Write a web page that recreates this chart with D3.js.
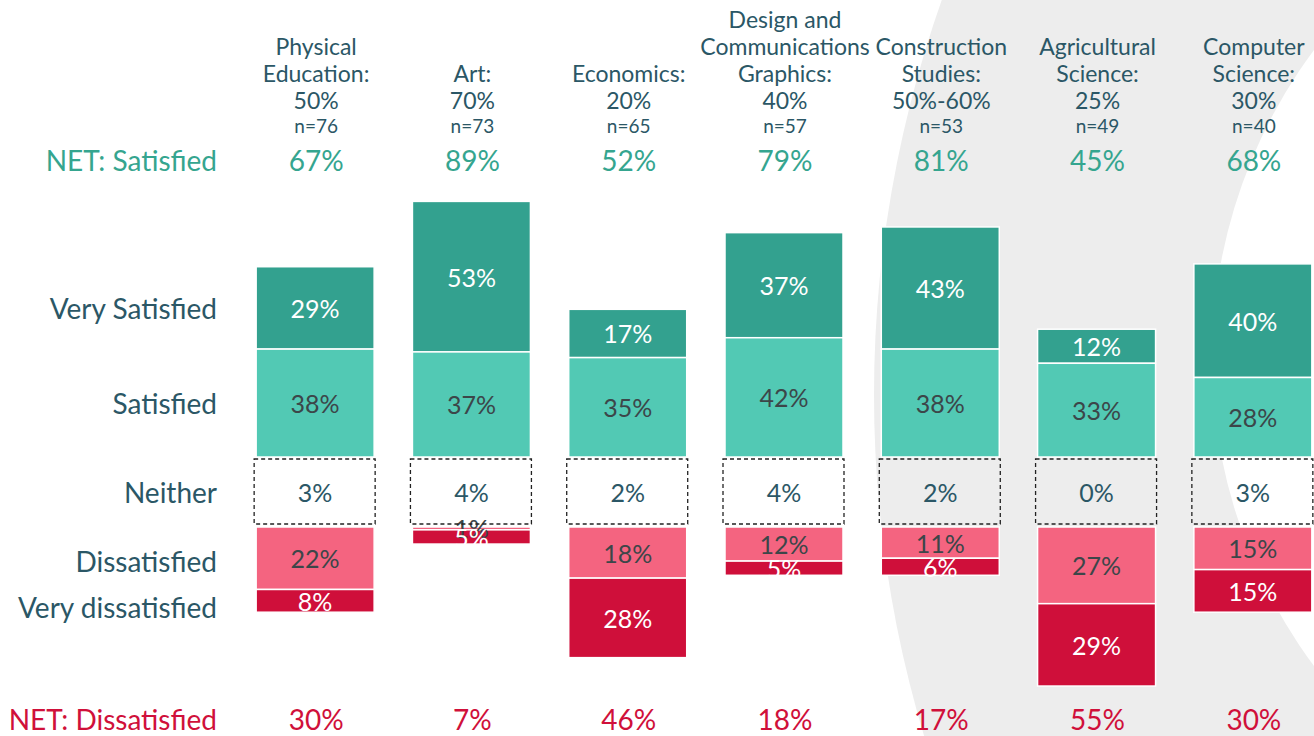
<!DOCTYPE html>
<html>
<head>
<meta charset="utf-8">
<script src="https://cdn.jsdelivr.net/npm/d3@7"></script>
<style>
  body { margin: 0; background: #fff; }
  svg text { font-family: Lato, "Open Sans", sans-serif; }
</style>
</head>
<body>
<div id="chart"></div>
<script>
// subjects, header lines and values
let subjects = ['Physical Education', 'Art', 'Economics', 'Design and Communications Graphics',
                'Construction Studies', 'Agricultural Science', 'Computer Science'];
let headLines = [['Physical', 'Education:'], ['Art:'], ['Economics:'], ['Design and', 'Communications', 'Graphics:'],
                 ['Construction', 'Studies:'], ['Agricultural', 'Science:'], ['Computer', 'Science:']];
let targets = ['50%', '70%', '20%', '40%', '50%-60%', '25%', '30%'];
let nBase = [76, 73, 65, 57, 53, 49, 40];

let netSatisfied = [67, 89, 52, 79, 81, 45, 68];
let verySatisfied = [29, 53, 17, 37, 43, 12, 40];
let satisfied = [38, 37, 35, 42, 38, 33, 28];
let neither = [3, 4, 2, 4, 2, 0, 3];
let dissatisfied = [22, 1, 18, 12, 11, 27, 15];
let veryDissatisfied = [8, 5, 28, 5, 6, 29, 15];
let netDissatisfied = [30, 7, 46, 18, 17, 55, 30];

let rowLabels = ['Very Satisfied', 'Satisfied', 'Neither', 'Dissatisfied', 'Very dissatisfied'];

let W = 1314, H = 736;
let cText = '#2b5766', cTeal = '#35a58f', cRed = '#d0103a';
let cVS = '#33a18f', cS = '#52c9b4', cD = '#f46480', cVD = '#cf0f3a';

let svg = d3.select('#chart').append('svg')
    .attr('width', W).attr('height', H)
    .attr('viewBox', '0 0 ' + W + ' ' + H);

// background crescent
svg.append('circle').attr('cx', 2059).attr('cy', 395).attr('r', 1185).attr('fill', '#ededed');
svg.append('circle').attr('cx', 1728).attr('cy', 358).attr('r', 516).attr('fill', '#fff');

let x = d3.scaleBand().domain(subjects).range([237, 1331]).paddingInner(0.245).paddingOuter(0.1225);
// percentage -> pixel height
let h = d3.scaleLinear().domain([0, 100]).range([0, 284]);
let satBase = 457, disBase = 527, neiTop = 459, neiBot = 524;

let rows = subjects.map((s, i) => ({
    s: s, i: i,
    vs: verySatisfied[i], sat: satisfied[i], nei: neither[i],
    dis: dissatisfied[i], vd: veryDissatisfied[i]
}));

let col = svg.selectAll('g.col').data(rows).enter().append('g')
    .attr('class', 'col')
    .attr('transform', d => 'translate(' + x(d.s) + ',0)');
let bw = x.bandwidth();

// header text
col.each(function(d){
    let g = d3.select(this);
    let lines = headLines[d.i].concat([targets[d.i]]);
    let y0 = 100 - (lines.length - 1) * 27;
    lines.forEach((t, j) => {
        g.append('text').attr('x', bw/2 + 1).attr('y', y0 + j*27)
            .attr('text-anchor', 'middle').attr('dominant-baseline', 'central')
            .attr('font-size', 23).attr('fill', cText).text(t);
    });
    g.append('text').attr('x', bw/2 + 1).attr('y', 125)
        .attr('text-anchor', 'middle').attr('dominant-baseline', 'central')
        .attr('font-size', 19).attr('fill', cText).text('n=' + nBase[d.i]);
    g.append('text').attr('x', bw/2 + 1).attr('y', 160)
        .attr('text-anchor', 'middle').attr('dominant-baseline', 'central')
        .attr('font-size', 28).attr('fill', cTeal).text(netSatisfied[d.i] + '%');
    g.append('text').attr('x', bw/2 + 1).attr('y', 719)
        .attr('text-anchor', 'middle').attr('dominant-baseline', 'central')
        .attr('font-size', 28).attr('fill', cRed).text(netDissatisfied[d.i] + '%');
});

// segments
let segs = [
    {key: 'vs', fill: cVS, txt: '#fff', y: d => satBase - h(d.sat) - h(d.vs)},
    {key: 'sat', fill: cS, txt: '#3c4649', y: d => satBase - h(d.sat)},
    {key: 'dis', fill: cD, txt: '#3c4649', y: d => disBase},
    {key: 'vd', fill: cVD, txt: '#fff', y: d => disBase + h(d.dis)}
];

segs.forEach(sg => {
    col.append('rect')
        .attr('x', 0).attr('width', bw)
        .attr('y', d => sg.y(d)).attr('height', d => h(d[sg.key]))
        .attr('fill', sg.fill)
        .attr('stroke', '#fff').attr('stroke-width', 1.5);
});
segs.forEach(sg => {
    col.append('text')
        .attr('x', bw/2)
        .attr('y', d => sg.y(d) + h(d[sg.key]) / 2)
        .attr('text-anchor', 'middle').attr('dominant-baseline', 'central')
        .attr('font-size', 25).attr('fill', sg.txt)
        .text(d => d[sg.key] + '%');
});

// neither box
col.append('rect')
    .attr('x', -2).attr('width', bw + 3)
    .attr('y', neiTop).attr('height', neiBot - neiTop)
    .attr('fill', 'none').attr('stroke', '#222')
    .attr('stroke-width', 1.3).attr('stroke-dasharray', '4,3');
col.append('text')
    .attr('x', bw/2).attr('y', (neiTop + neiBot)/2)
    .attr('text-anchor', 'middle').attr('dominant-baseline', 'central')
    .attr('font-size', 25).attr('fill', cText)
    .text(d => d.nei + '%');

// row labels on the left
let rowY = [308, 403, 492, 561, 607];
svg.selectAll('text.row').data(rowLabels).enter().append('text')
    .attr('class', 'row')
    .attr('x', 217).attr('y', (d, i) => rowY[i])
    .attr('text-anchor', 'end').attr('dominant-baseline', 'central')
    .attr('font-size', 28).attr('fill', cText).text(d => d);

svg.append('text').attr('x', 217).attr('y', 160)
    .attr('text-anchor', 'end').attr('dominant-baseline', 'central')
    .attr('font-size', 28).attr('fill', cTeal).text('NET: Satisfied');
svg.append('text').attr('x', 217).attr('y', 719)
    .attr('text-anchor', 'end').attr('dominant-baseline', 'central')
    .attr('font-size', 28).attr('fill', cRed).text('NET: Dissatisfied');
</script>
</body>
</html>
